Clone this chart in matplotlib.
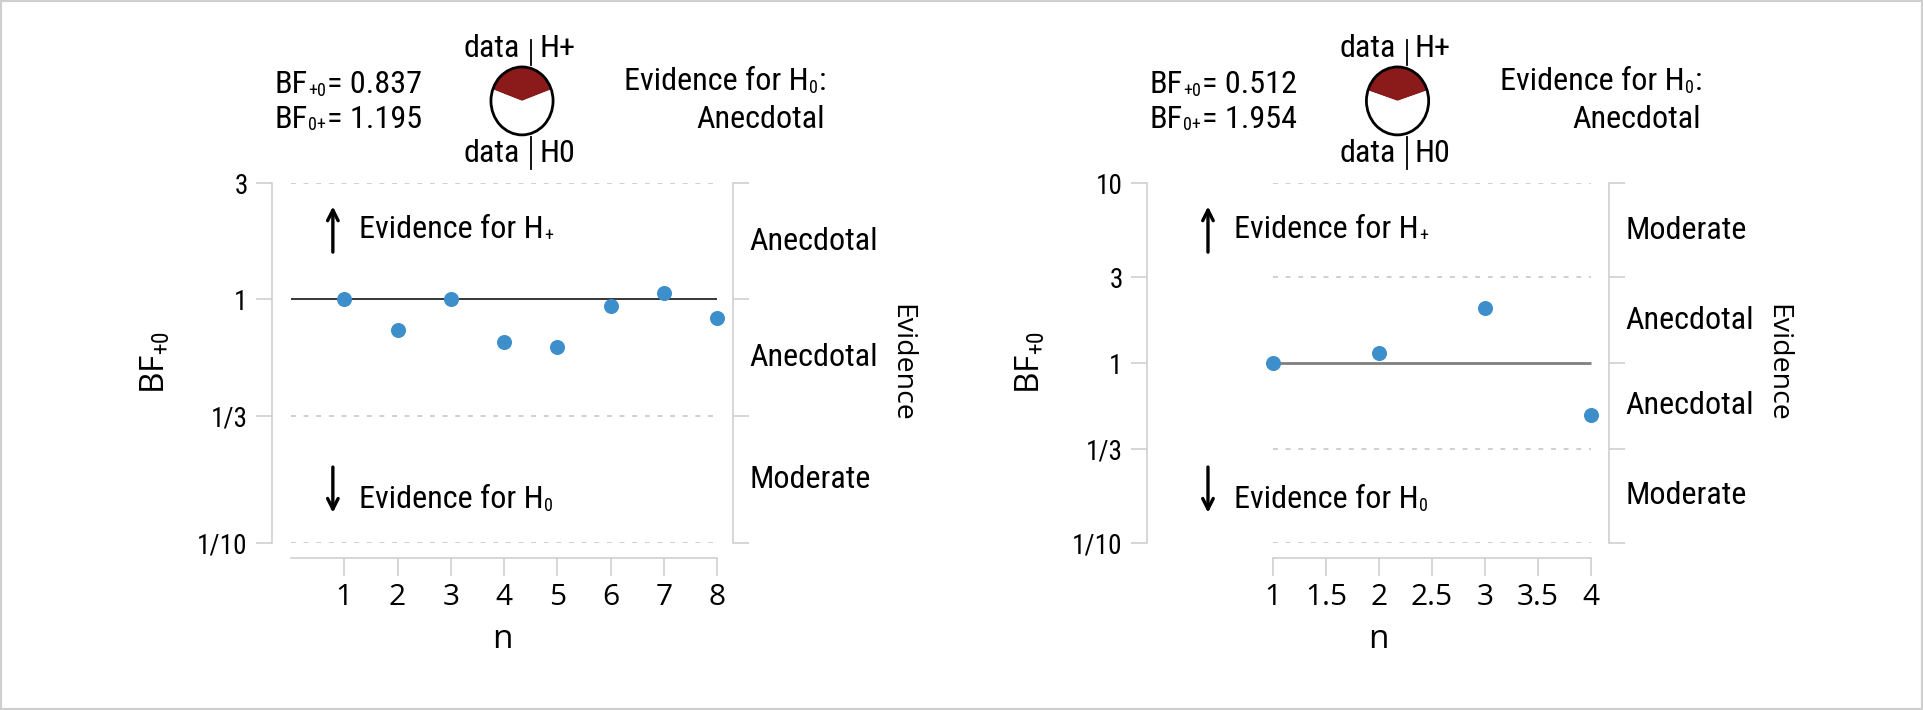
import numpy as np
import matplotlib
matplotlib.use("Agg")
import matplotlib.pyplot as plt
from matplotlib import font_manager
from matplotlib.font_manager import FontProperties
from matplotlib.patches import Rectangle, Circle
from matplotlib.ticker import NullLocator
from matplotlib.transforms import offset_copy

# sequential BF+0 values, left and right analysis
n_a = [1, 2, 3, 4, 5, 6, 7, 8]
bf_a = [1.0, 0.75, 1.0, 0.67, 0.64, 0.94, 1.06, 0.837]
n_b = [1, 2, 3, 4]
bf_b = [1.0, 1.14, 2.01, 0.512]

bf_plus0 = [0.837, 0.512]
bf_0plus = [1.195, 1.954]
verdict = ["Anecdotal", "Anecdotal"]
pizza_red = [0.39, 0.40]  # red share of the pie

yticks_a = [1 / 10, 1 / 3, 1, 3]
ylabels_a = ["1/10", "1/3", "1", "3"]
cats_a = ["Moderate", "Anecdotal", "Anecdotal"]
xticks_a = [1, 2, 3, 4, 5, 6, 7, 8]
xlabels_a = ["1", "2", "3", "4", "5", "6", "7", "8"]

yticks_b = [1 / 10, 1 / 3, 1, 3, 10]
ylabels_b = ["1/10", "1/3", "1", "3", "10"]
cats_b = ["Moderate", "Anecdotal", "Anecdotal", "Moderate"]
xticks_b = [1, 1.5, 2, 2.5, 3, 3.5, 4]
xlabels_b = ["1", "1.5", "2", "2.5", "3", "3.5", "4"]

names = {f.name for f in font_manager.fontManager.ttflist}
COND = next((f for f in ["Roboto Condensed", "Liberation Sans Narrow"] if f in names), "Liberation Sans")
k = 1.0 if ("Narrow" in COND or "Condensed" in COND) else 0.86

plt.rcParams["font.family"] = ["Open Sans", "DejaVu Sans"]
plt.rcParams["mathtext.fontset"] = "custom"
plt.rcParams["mathtext.rm"] = COND
plt.rcParams["mathtext.it"] = COND
plt.rcParams["mathtext.bf"] = COND

GREY = "#cccccc"
BLUE = "#3d8fcb"
RED = "#8b1a1a"
FS = 23.2 * k

fig = plt.figure(figsize=(19.23, 7.10), dpi=100)
renderer = fig.canvas.get_renderer()


def rich(ax, x, y, parts, ha="left", size=FS):
    # text with small subscripts, laid out piece by piece
    drop = 1.8
    sizes = [size * 0.56 if sub else size for s, sub in parts]
    widths = [renderer.get_text_width_height_descent(s, FontProperties(family=COND, size=fs), ismath=False)[0]
              * 72 / fig.dpi for (s, sub), fs in zip(parts, sizes)]
    off = 0 if ha == "left" else -sum(widths)
    for (s, sub), fs, w in zip(parts, sizes, widths):
        tr = offset_copy(ax.transAxes, fig=fig, x=off, y=(-drop if sub else 0), units="points")
        ax.text(x, y, s, transform=tr, ha="left", va="baseline", fontfamily=COND, fontsize=fs)
        off += w + (0.6 if sub else 0.3)


def panel(ax, n, bf, yt, yl, cats, xt, xl, xlim, xspan, b10, b01, verd, pz, refc, reflw):
    ax.set_yscale("log")
    ax.set_ylim(yt[0], yt[-1])
    ax.set_xlim(xlim)
    ax.yaxis.set_minor_locator(NullLocator())
    ax.set_yticks(yt, yl, fontfamily=COND, fontsize=19.5 * k)
    ax.set_xticks(xt, xl)

    ax.hlines([t for t in yt if t != 1], xspan[0], xspan[1], colors="#cfcfcf",
              linestyles=(0, (2.5, 4)), lw=1.4)
    ax.hlines(1, xspan[0], xspan[1], colors=refc, lw=reflw, zorder=2)
    ax.plot(n, bf, "o", color=BLUE, ms=9.8, zorder=3, clip_on=False)

    ax.spines["top"].set_visible(False)
    for s in ["left", "right", "bottom"]:
        ax.spines[s].set_color(GREY)
        ax.spines[s].set_linewidth(1.1)
    ax.spines["bottom"].set_position(("outward", 10.8))
    ax.spines["bottom"].set_bounds(xspan[0], xspan[1])
    ax.tick_params(axis="y", left=True, right=True, direction="out", length=11.5,
                   width=1.1, color=GREY, pad=6)
    ax.tick_params(axis="x", length=13, width=1.1, color=GREY, pad=5, labelsize=21.5)

    ax.set_xlabel("n", fontsize=24, labelpad=8)
    ax.set_ylabel("BF$_{+0}$", fontsize=24, va="center")
    ax.yaxis.set_label_coords(-0.252, 0.5)

    # evidence categories on the right
    tr = ax.get_yaxis_transform()
    for lo, hi, c in zip(yt[:-1], yt[1:], cats):
        ax.text(1.035, np.sqrt(lo * hi), c, transform=tr, ha="left", va="center",
                fontfamily=COND, fontsize=FS)
    ax.text(1.364, 0.5, "Evidence", transform=ax.transAxes, rotation=-90,
            ha="center", va="center", fontsize=20.5)

    # arrows
    arr = dict(arrowstyle="->", lw=2.4, color="black", mutation_scale=19, shrinkA=0, shrinkB=0)
    ax.annotate("", xy=(0.132, 0.935), xytext=(0.132, 0.808), xycoords="axes fraction", arrowprops=arr)
    ax.annotate("", xy=(0.132, 0.084), xytext=(0.132, 0.211), xycoords="axes fraction", arrowprops=arr)
    rich(ax, 0.189, 0.847, [("Evidence for H", False), ("+", True)])
    rich(ax, 0.189, 0.097, [("Evidence for H", False), ("0", True)])

    # header
    rich(ax, 0.005, 1.25, [("BF", False), ("+0", True), ("= %.3f" % b10, False)])
    rich(ax, 0.005, 1.153, [("BF", False), ("0+", True), ("= %.3f" % b01, False)])
    rich(ax, 1.2, 1.258, [("Evidence for H", False), ("0", True), (":", False)], ha="right")
    ax.text(1.2, 1.153, verd, transform=ax.transAxes, va="baseline", ha="right",
            fontfamily=COND, fontsize=FS)

    # pizza
    pax = ax.inset_axes([0.5423 - 0.0694, 1.228 - 0.0972, 0.1388, 0.1944])
    pax.pie([pz, 1 - pz], colors=[RED, "white"], startangle=90 - pz * 180,
            counterclock=True, wedgeprops=dict(linewidth=0))
    pax.set_aspect("auto")
    pax.set_xlim(-1.03, 1.03)
    pax.set_ylim(-1.03, 1.03)
    pax.add_patch(Circle((0, 0), 1, fill=False, ec="black", lw=2, clip_on=False))
    ax.plot([0.562, 0.562], [1.328, 1.397], transform=ax.transAxes, color="black",
            lw=1.3, clip_on=False)
    ax.plot([0.562, 0.562], [1.039, 1.128], transform=ax.transAxes, color="black",
            lw=1.3, clip_on=False)
    for yy, h in [(1.35, "H+"), (1.058, "H0")]:
        ax.text(0.538, yy, "data", transform=ax.transAxes, ha="right", va="baseline",
                fontfamily=COND, fontsize=FS)
        ax.text(0.58, yy, h, transform=ax.transAxes, ha="left", va="baseline",
                fontfamily=COND, fontsize=FS)


ax1 = fig.add_axes([0.14145, 0.23521, 0.23973, 0.50704])
ax2 = fig.add_axes([0.59646, 0.23521, 0.24025, 0.50704])

panel(ax1, n_a, bf_a, yticks_a, ylabels_a, cats_a, xticks_a, xlabels_a,
      (-0.357, 8.30), (0, 8), bf_plus0[0], bf_0plus[0], verdict[0], pizza_red[0], "black", 1.1)
panel(ax2, n_b, bf_b, yticks_b, ylabels_b, cats_b, xticks_b, xlabels_b,
      (-0.189, 4.17), (1, 4), bf_plus0[1], bf_0plus[1], verdict[1], pizza_red[1], "#808080", 2)

fig.patches.append(Rectangle((0, 0), 1, 1, transform=fig.transFigure, fill=False,
                             ec="#cfcfcf", lw=3))

fig.savefig("out.png", dpi=100)
